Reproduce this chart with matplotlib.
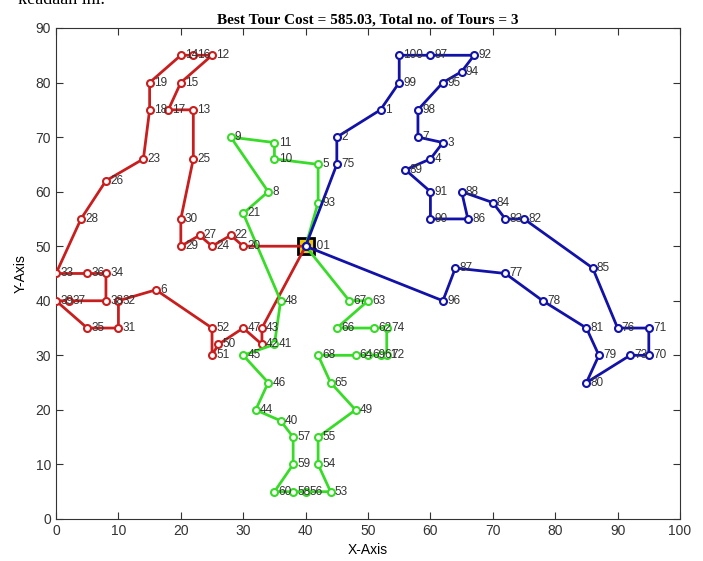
import matplotlib.pyplot as plt

# depot
depot_id = 101
depot_x, depot_y = 40, 50

# route 1 (red), in visiting order
red_ids = [20, 22, 24, 27, 29, 30, 25, 13, 17, 15, 12, 16, 14, 19, 18, 23, 26, 28,
           33, 36, 34, 38, 37, 39, 35, 31, 32, 6, 52, 51, 50, 47, 42, 43]
red_x = [30, 28, 25, 23, 20, 20, 22, 22, 18, 20, 25, 22, 20, 15, 15, 14, 8, 4,
         0, 5, 8, 8, 2, 0, 5, 10, 10, 16, 25, 25, 26, 30, 33, 33]
red_y = [50, 52, 50, 52, 50, 55, 66, 75, 75, 80, 85, 85, 85, 80, 75, 66, 62, 55,
         45, 45, 45, 40, 40, 40, 35, 35, 40, 42, 35, 30, 32, 35, 32, 35]

# route 2 (green)
green_ids = [93, 5, 10, 11, 9, 8, 21, 48, 41, 45, 46, 44, 40, 57, 59, 60, 58, 56, 53,
             54, 55, 49, 65, 68, 64, 69, 61, 72, 74, 62, 66, 63, 67]
green_x = [42, 42, 35, 35, 28, 34, 30, 36, 35, 30, 34, 32, 36, 38, 38, 35, 38, 40, 44,
           42, 42, 48, 44, 42, 48, 50, 52, 53, 53, 51, 45, 50, 47]
green_y = [58, 65, 66, 69, 70, 60, 56, 40, 32, 30, 25, 20, 18, 15, 10, 5, 5, 5, 5,
           10, 15, 20, 25, 30, 30, 30, 30, 30, 35, 35, 35, 40, 40]

# route 3 (blue)
blue_ids = [75, 2, 1, 99, 100, 97, 92, 94, 95, 98, 7, 3, 4, 89, 91, 90, 86, 88, 84,
            83, 82, 85, 76, 71, 70, 73, 80, 79, 81, 78, 77, 87, 96]
blue_x = [45, 45, 52, 55, 55, 60, 67, 65, 62, 58, 58, 62, 60, 56, 60, 60, 66, 65, 70,
          72, 75, 86, 90, 95, 95, 92, 85, 87, 85, 78, 72, 64, 62]
blue_y = [65, 70, 75, 80, 85, 85, 85, 82, 80, 75, 70, 69, 66, 64, 60, 55, 55, 60, 58,
          55, 55, 46, 35, 35, 30, 30, 25, 30, 35, 40, 45, 46, 40]

routes = [
    (red_ids, red_x, red_y, '#c81e1e'),
    (green_ids, green_x, green_y, '#38dc28'),
    (blue_ids, blue_x, blue_y, '#1212a8'),
]

best_cost = 585.03
n_tours = 3

plt.rcParams['font.family'] = ['Liberation Sans', 'DejaVu Sans']

fig = plt.figure(figsize=(7.03, 5.61), dpi=100)
ax = fig.add_axes([0.0797, 0.0749, 0.8876, 0.8752])

# depot square
ax.plot(depot_x, depot_y, marker='s', markersize=11, markerfacecolor='#f2c500',
        markeredgecolor='black', markeredgewidth=2, zorder=2)

for ids, xs, ys, col in routes:
    px = [depot_x] + xs + [depot_x]
    py = [depot_y] + ys + [depot_y]
    ax.plot(px, py, '-o', color=col, lw=2, markersize=5,
            markerfacecolor='white', markeredgewidth=1.5, zorder=3)
    for i, x, y in zip(ids, xs, ys):
        ax.annotate(str(i), (x, y), xytext=(3, 0), textcoords='offset points',
                    va='center', ha='left', fontsize=8.5, color='#333333', zorder=4)

ax.annotate(str(depot_id), (depot_x, depot_y), xytext=(3, 0), textcoords='offset points',
            va='center', ha='left', fontsize=8.5, color='#333333', zorder=1)

ax.set_xlim(0, 100)
ax.set_ylim(0, 90)
ax.set_xticks(range(0, 101, 10))
ax.set_yticks(range(0, 91, 10))
ax.tick_params(direction='in', top=True, right=True, labelsize=10, colors='#333333',
               length=5)
for s in ax.spines.values():
    s.set_color('#333333')
    s.set_linewidth(0.8)

ax.set_title(f'Best Tour Cost = {best_cost:.2f}, Total no. of Tours = {n_tours}',
             family='Liberation Serif', fontweight='bold', fontsize=11, pad=3)
ax.set_xlabel('X-Axis', fontsize=10, labelpad=4)
ax.set_ylabel('Y-Axis', fontsize=10, labelpad=6)

# cropped caption from the source document
fig.text(0.026, 1.0, 'keadaan ini.', family='Liberation Serif', fontsize=13,
         va='center', ha='left')

fig.savefig('out.png', dpi=100, facecolor='white')
